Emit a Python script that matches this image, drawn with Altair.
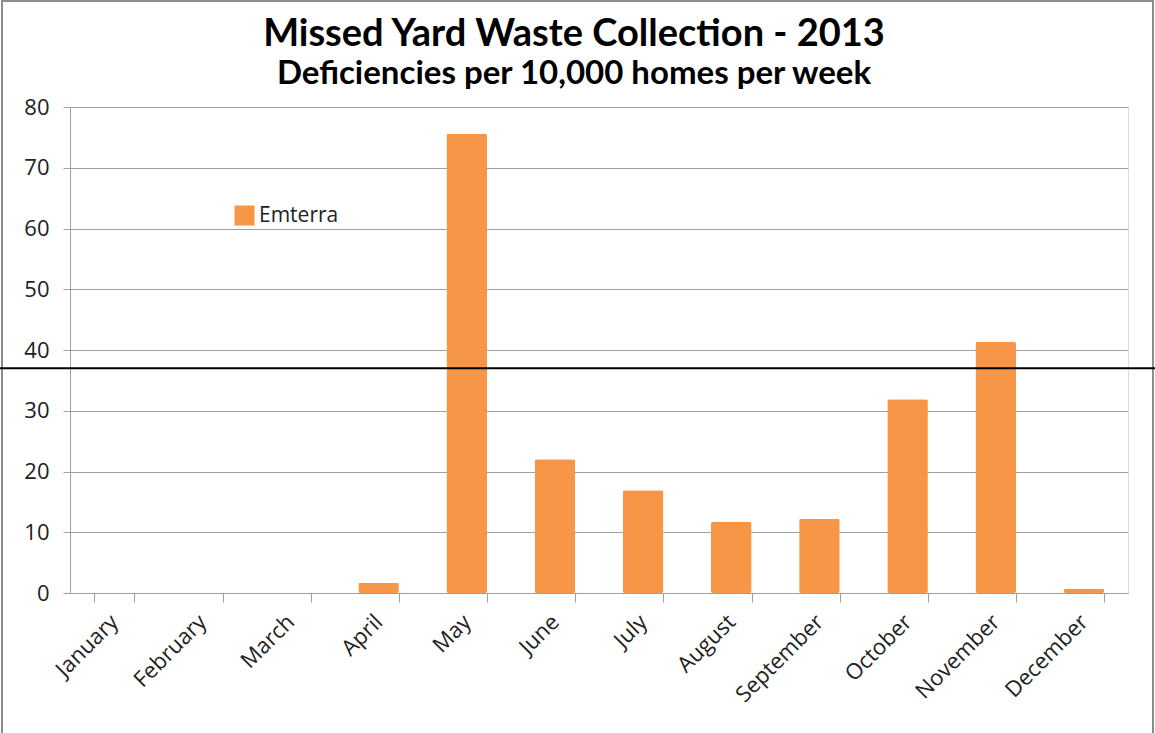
import altair as alt
import pandas as pd

months = ["January", "February", "March", "April", "May", "June", "July",
          "August", "September", "October", "November", "December"]
values = [0, 0, 0, 1.7, 75.6, 22.0, 16.9, 11.7, 12.2, 31.9, 41.3, 0.7]
series = ["Emterra"] * 12
threshold = [37.0]

df = pd.DataFrame({"Month": months, "Value": values, "Series": series})
tdf = pd.DataFrame({"t": threshold})

W, H = 1058, 486
FONT = "Lato"

bars = alt.Chart(df).mark_bar(color="#F79646", cornerRadius=2).encode(
    x=alt.X("Month:N", sort=months,
            scale=alt.Scale(paddingInner=0.54, paddingOuter=0.27),
            axis=alt.Axis(title=None, labelAngle=-45, labelAlign="right",
                          labelBaseline="middle", labelFontSize=22,
                          labelColor="#222", labelPadding=16, tickSize=9,
                          tickColor="#A0A0A0", domainColor="#A0A0A0",
                          tickBand="extent", labelFont="Open Sans")),
    y=alt.Y("Value:Q", scale=alt.Scale(domain=[0, 80]),
            axis=alt.Axis(title=None, values=list(range(0, 81, 10)),
                          labelFontSize=22, labelColor="#222", labelPadding=14,
                          tickSize=7, tickColor="#A0A0A0", domainColor="#A0A0A0",
                          gridColor="#A0A0A0", labelFont="Open Sans")),
    fill=alt.Fill("Series:N", scale=alt.Scale(range=["#F79646"]),
                  legend=alt.Legend(title=None, orient="none", legendX=164, legendY=98,
                                    symbolType="square", symbolSize=400,
                                    symbolStrokeWidth=0, labelFontSize=21,
                                    labelFont="Open Sans", labelColor="#222",
                                    labelOffset=4)),
)

rule = alt.Chart(tdf).mark_rule(color="black", strokeWidth=2).encode(
    y=alt.Y("t:Q"), x=alt.value(-70), x2=alt.value(W + 27)
)

frame = alt.Chart(tdf).mark_rect(fill=None, stroke="#8c8c8c", strokeWidth=2).encode(
    x=alt.value(-68), x2=alt.value(W + 25), y=alt.value(-106), y2=alt.value(H + 200)
)

chart = alt.layer(frame, bars, rule).properties(
    width=W, height=H,
    title=alt.TitleParams(
        "Missed Yard Waste Collection - 2013",
        subtitle="Deficiencies per 10,000 homes per week",
        font=FONT, fontSize=38, fontWeight="bold", color="black",
        subtitleFont=FONT, subtitleFontSize=33, subtitleFontWeight="bold",
        subtitleColor="black", anchor="middle", dx=-25, dy=106, offset=15,
        subtitlePadding=4,
    ),
    padding={"left": 70, "top": 107, "right": 27, "bottom": 140},
    autosize=alt.AutoSizeParams(type="none"),
).configure_view(stroke=None).configure(background="white")

chart.save("out.html", embed_options={"renderer": "svg", "actions": False})
